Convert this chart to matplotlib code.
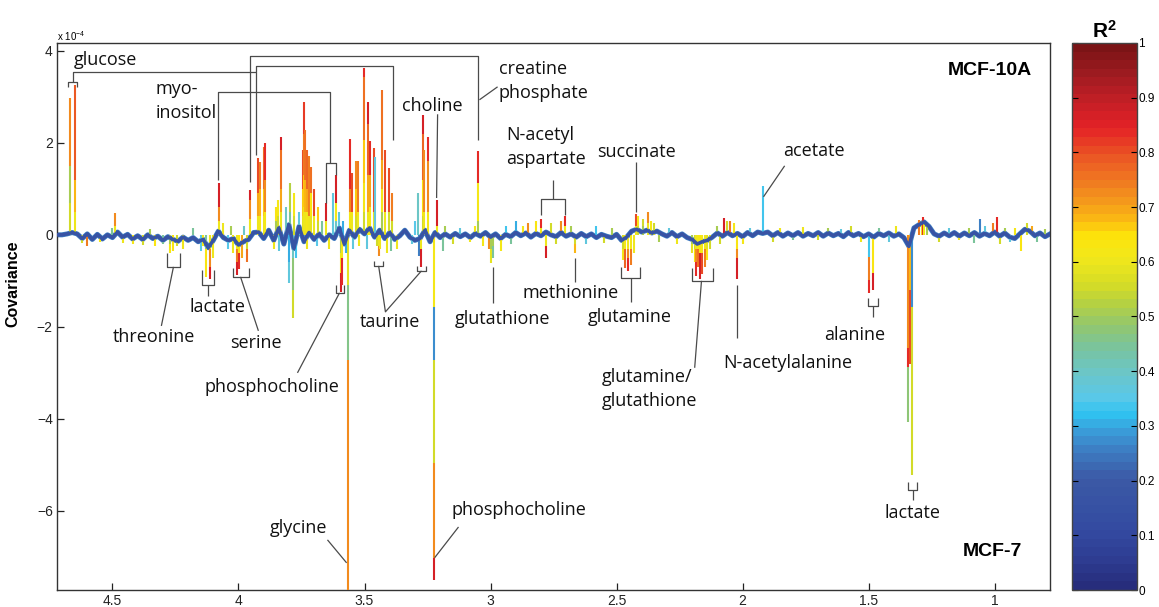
import numpy as np
import matplotlib
matplotlib.use('Agg')
import matplotlib.pyplot as plt
from matplotlib.collections import LineCollection
from matplotlib.colors import LinearSegmentedColormap, Normalize
import matplotlib.cm as cm

plt.rcParams['font.family'] = ['Liberation Sans', 'DejaVu Sans']
plt.rcParams['mathtext.fontset'] = 'custom'
plt.rcParams['mathtext.rm'] = 'Liberation Sans'
plt.rcParams['mathtext.bf'] = 'Liberation Sans:bold'

# ---- data (covariance in units of 1e-4, chemical shift in ppm) ----
# baseline of the covariance trace, 4.72 -> 0.78 ppm, step 0.02
baseline_cov = [
    0.00, 0.00, 0.02, 0.05, 0.02, -0.08, 0.02, -0.10, 0.01, -0.09,
    0.00, -0.06, 0.06, -0.05, 0.01, -0.09, -0.02, -0.10, 0.00, -0.08,
    -0.03, -0.12, -0.04, -0.10, -0.14, -0.05, -0.12, -0.06, -0.15, -0.10,
    -0.28, -0.12, 0.08, -0.06, -0.12, -0.08, -0.22, -0.15, -0.10, 0.05,
    0.06, -0.08, 0.10, -0.12, 0.15, -0.20, 0.22, -0.30, 0.18, -0.15,
    0.05, -0.10, 0.02, -0.12, 0.00, -0.08, 0.15, -0.20, 0.10, -0.05,
    0.12, 0.02, 0.15, -0.05, 0.10, -0.08, 0.05, -0.10, -0.02, 0.10,
    -0.05, -0.12, -0.08, 0.10, -0.15, 0.05, -0.06, 0.02, -0.05, 0.03,
    -0.04, 0.02, -0.06, 0.03, -0.03, 0.05, -0.05, 0.02, -0.08, 0.01,
    -0.04, 0.05, -0.02, 0.04, -0.05, 0.03, -0.02, 0.06, 0.00, -0.04,
    0.05, -0.03, 0.02, -0.05, 0.03, -0.04, 0.02, -0.06, 0.01, -0.03,
    -0.06, 0.01, -0.12, -0.05, 0.08, 0.12, 0.06, 0.10, 0.04, 0.08,
    0.02, -0.03, 0.05, -0.04, 0.02, -0.06, -0.10, -0.20, -0.15, -0.12,
    -0.05, 0.04, -0.03, 0.05, -0.02, 0.03, -0.04, 0.05, -0.02, 0.06,
    0.03, 0.06, -0.02, 0.05, -0.03, 0.04, -0.02, 0.05, -0.03, 0.03,
    -0.02, 0.05, -0.03, 0.04, -0.02, 0.03, -0.04, 0.05, -0.02, 0.03,
    -0.04, 0.02, -0.05, 0.03, -0.02, 0.04, -0.03, 0.02, -0.06, -0.25,
    0.15, 0.22, 0.28, 0.18, 0.02, -0.03, 0.04, -0.02, 0.05, -0.03,
    0.04, -0.02, 0.05, -0.03, 0.03, -0.02, 0.06, -0.03, 0.04, -0.05,
    -0.08, 0.02, 0.12, 0.08, -0.02, 0.04, -0.04, 0.02,
]
baseline_r2 = 0.17

# main peaks: position, break points along the stem, R^2 of each piece
peak_ppm = [
    4.667, 4.650, 4.490, 4.079, 3.956, 3.921, 3.913, 3.898, 3.893, 3.853,
    3.845, 3.833, 3.794, 3.780, 3.745, 3.741, 3.736, 3.728, 3.720, 3.712,
    3.700, 3.686, 3.651, 3.627, 3.615, 3.558, 3.550, 3.535, 3.524, 3.504,
    3.488, 3.478, 3.464, 3.458, 3.430, 3.418, 3.402, 3.392, 3.287, 3.266,
    3.262, 3.250, 3.212, 3.048, 2.798, 2.706, 2.421, 2.413, 2.395, 2.375,
    2.365, 2.350, 1.917,
    4.270, 4.258, 4.245, 4.127, 4.115, 4.100, 4.020, 4.004, 3.996, 3.988,
    3.968, 3.800, 3.782, 3.595, 3.588, 3.567, 3.444, 3.438, 3.282, 3.276,
    3.226, 3.008, 3.000, 2.990, 2.960, 2.780, 2.663, 2.476, 2.468, 2.456,
    2.444, 2.432, 2.200, 2.190, 2.183, 2.175, 2.167, 2.159, 2.150, 2.140,
    2.130, 2.024, 1.500, 1.484, 1.345, 1.337, 1.329,
]
peak_levels = [
    [0.7, 1.5, 2.98], [0.5, 1.2, 3.26], [0.2, 0.47], [0.3, 0.6, 1.12],
    [0.35, 0.76, 0.98], [0.4, 0.9, 1.68], [0.4, 1.0, 1.58], [0.4, 1.0, 1.9],
    [0.5, 1.2, 2.0], [0.3, 0.6], [0.4, 0.75], [0.5, 1.0, 1.85, 2.13],
    [0.5, 1.13], [0.4, 0.9], [0.4, 1.0, 1.85], [0.6, 1.3, 2.2, 2.89],
    [0.5, 1.2, 2.28], [0.5, 1.0, 1.85], [0.4, 1.72], [0.4, 0.9, 1.48],
    [0.4, 1.0], [0.3, 0.6], [0.3, 0.7], [0.9], [0.3, 0.7, 1.3],
    [0.5, 1.0, 2.09], [0.5, 1.35], [0.4, 1.0, 1.6], [0.5, 1.6],
    [0.5, 1.13, 2.07, 3.43, 3.63], [0.5, 1.3, 2.4, 2.89], [0.6, 1.3, 2.04],
    [0.5, 1.89], [1.7], [0.5, 1.0, 1.63, 3.15], [0.5, 1.85], [0.5, 1.45],
    [0.3, 0.9], [0.9], [0.4, 1.2, 2.2, 2.61], [0.5, 1.85], [0.5, 1.6, 2.13],
    [0.2, 0.76], [0.3, 1.13, 1.83], [0.15, 0.35], [0.2, 0.4], [0.2, 0.45],
    [0.2, 0.4], [0.2, 0.35], [0.25, 0.5], [0.3], [0.25], [1.06],
    [-0.2, -0.4], [-0.35], [-0.25], [-0.3, -0.91], [-0.3, -0.7, -0.95],
    [-0.5], [-0.4], [-0.3, -0.6, -0.87], [-0.4, -0.75], [-0.5],
    [-0.3, -0.58], [-0.6, -1.04], [-0.5, -1.2, -1.8], [-0.4, -0.83, -1.24],
    [-0.5, -1.1], [-1.09, -2.72, -8.0], [-0.25, -0.45], [-0.3], [-0.45],
    [-0.3, -0.7], [-1.57, -2.72, -4.96, -7.02, -7.5], [-0.3], [-0.3, -0.61],
    [-0.25, -0.5], [-0.35], [-0.25, -0.5], [-0.2, -0.4], [-0.3, -0.55],
    [-0.3, -0.72], [-0.3, -0.5, -0.78], [-0.3, -0.65], [-0.4], [-0.2, -0.4],
    [-0.3, -0.6], [-0.3, -0.6, -0.9], [-0.3, -0.7], [-0.4, -0.97],
    [-0.4, -0.85], [-0.3, -0.7], [-0.3, -0.55], [-0.3], [-0.3, -0.5, -0.96],
    [-0.48, -0.98, -1.26], [-0.83, -1.2], [-2.46, -2.87, -4.07],
    [-1.2, -2.8], [-1.57, -5.22],
]
peak_r2 = [
    [0.56, 0.5, 0.73], [0.6, 0.68, 0.79], [0.6, 0.72], [0.6, 0.72, 0.86],
    [0.6, 0.72, 0.86], [0.6, 0.7, 0.8], [0.62, 0.68, 0.74], [0.6, 0.66, 0.76],
    [0.62, 0.72, 0.84], [0.5, 0.64], [0.55, 0.62], [0.6, 0.7, 0.76, 0.86],
    [0.45, 0.52], [0.55, 0.62], [0.58, 0.66, 0.8], [0.6, 0.66, 0.74, 0.82],
    [0.6, 0.68, 0.76], [0.62, 0.7, 0.78], [0.6, 0.74], [0.58, 0.64, 0.76],
    [0.6, 0.8], [0.55, 0.66], [0.6, 0.86], [0.36], [0.4, 0.62, 0.86],
    [0.62, 0.72, 0.84], [0.6, 0.8], [0.55, 0.66, 0.72], [0.6, 0.74],
    [0.55, 0.62, 0.66, 0.76, 0.84], [0.6, 0.7, 0.78, 0.86], [0.62, 0.7, 0.84],
    [0.6, 0.8], [0.36], [0.5, 0.62, 0.7, 0.76], [0.6, 0.8], [0.55, 0.8],
    [0.55, 0.74], [0.4], [0.55, 0.64, 0.78, 0.86], [0.6, 0.72], [0.62, 0.72, 0.84],
    [0.6, 0.86], [0.5, 0.62, 0.84], [0.6, 0.84], [0.6, 0.84], [0.6, 0.8],
    [0.55, 0.62], [0.5, 0.56], [0.6, 0.72], [0.62], [0.55], [0.34],
    [0.5, 0.62], [0.64], [0.56], [0.45, 0.64], [0.6, 0.72, 0.86],
    [0.6], [0.6], [0.6, 0.74, 0.86], [0.64, 0.84], [0.7],
    [0.55, 0.76], [0.3, 0.36], [0.4, 0.48, 0.56], [0.5, 0.62, 0.86],
    [0.62, 0.84], [0.58, 0.46, 0.72], [0.6, 0.72], [0.6], [0.25],
    [0.6, 0.86], [0.62, 0.27, 0.55, 0.72, 0.86], [0.72], [0.5, 0.58],
    [0.5, 0.45], [0.62], [0.6, 0.86], [0.55, 0.68], [0.55, 0.62],
    [0.62, 0.78], [0.6, 0.72, 0.84], [0.62, 0.74], [0.6], [0.5, 0.58],
    [0.56, 0.64], [0.6, 0.72, 0.84], [0.62, 0.76], [0.64, 0.86],
    [0.62, 0.8], [0.6, 0.74], [0.58, 0.64], [0.55], [0.64, 0.72, 0.86],
    [0.34, 0.74, 0.84], [0.64, 0.86], [0.72, 0.84, 0.47],
    [0.68, 0.8], [0.28, 0.56],
]

# small spikes around the baseline
small_ppm = [4.62, 4.60, 4.55, 4.50, 4.46, 4.42, 4.38, 4.35, 4.33, 4.30,
             4.22, 4.18, 4.15, 4.14, 4.06, 4.04, 4.03, 3.98, 3.86, 3.84,
             3.81, 3.77, 3.76, 3.73, 3.69, 3.67, 3.64, 3.60, 3.585, 3.575,
             3.545, 3.52, 3.49, 3.45, 3.41, 3.395, 3.37, 3.31, 3.30, 3.19,
             3.18, 3.15, 3.12, 3.08, 3.06, 3.03, 2.94, 2.92, 2.90, 2.87,
             2.85, 2.82, 2.76, 2.74, 2.72, 2.68, 2.62, 2.58, 2.55, 2.52,
             2.33, 2.29, 2.26, 2.10, 2.09, 2.075, 2.06, 2.048, 2.035, 2.00,
             1.97, 1.88, 1.85, 1.80, 1.76, 1.70, 1.66, 1.61, 1.57, 1.53,
             1.46, 1.42, 1.39, 1.30, 1.29, 1.285, 1.28, 1.27, 1.22, 1.18,
             1.14, 1.10, 1.08, 1.056, 1.04, 1.008, 0.992, 0.98, 0.96, 0.94,
             0.92, 0.897, 0.87, 0.85, 0.83, 0.80]
small_cov = [-0.18, -0.25, -0.15, 0.15, -0.18, -0.2, -0.22, 0.12, -0.25, -0.2,
             -0.3, 0.15, -0.35, -0.25, 0.25, -0.3, 0.2, 0.2, -0.3, -0.35,
             0.6, -0.5, 0.5, -0.3, -0.25, 0.3, -0.3, 0.5, 0.3, -0.4,
             -0.3, -0.25, -0.3, -0.25, -0.4, -0.35, -0.3, -0.2, 0.3, -0.35,
             0.2, -0.2, 0.15, -0.15, 0.2, -0.25, 0.2, -0.2, 0.3, 0.2,
             0.25, 0.3, 0.25, -0.2, 0.3, 0.2, -0.2, 0.2, -0.18, 0.15,
             -0.15, 0.15, -0.2, 0.2, -0.2, 0.37, 0.3, 0.3, 0.25, -0.2,
             0.15, -0.15, 0.15, -0.12, 0.18, -0.12, 0.15, 0.12, 0.2, -0.15,
             0.15, -0.15, 0.2, 0.33, 0.3, 0.38, 0.28, 0.25, -0.15, 0.15,
             -0.12, 0.15, -0.18, 0.35, 0.2, 0.25, 0.38, -0.2, 0.15, -0.15,
             0.15, -0.35, 0.25, 0.2, -0.15, 0.12]
small_r2 = [0.56, 0.74, 0.62, 0.45, 0.6, 0.62, 0.56, 0.5, 0.64, 0.45,
            0.6, 0.45, 0.35, 0.62, 0.6, 0.35, 0.5, 0.4, 0.6, 0.36,
            0.4, 0.34, 0.36, 0.6, 0.35, 0.45, 0.6, 0.36, 0.3, 0.3,
            0.36, 0.6, 0.36, 0.55, 0.6, 0.45, 0.6, 0.36, 0.35, 0.45,
            0.5, 0.55, 0.36, 0.6, 0.62, 0.62, 0.34, 0.45, 0.3, 0.62,
            0.72, 0.64, 0.56, 0.55, 0.72, 0.5, 0.36, 0.34, 0.55, 0.5,
            0.5, 0.36, 0.6, 0.5, 0.55, 0.86, 0.55, 0.74, 0.62, 0.62,
            0.36, 0.55, 0.6, 0.45, 0.6, 0.55, 0.5, 0.36, 0.56, 0.6,
            0.45, 0.36, 0.6, 0.74, 0.6, 0.84, 0.62, 0.5, 0.55, 0.36,
            0.6, 0.5, 0.45, 0.25, 0.36, 0.74, 0.84, 0.55, 0.5, 0.36,
            0.62, 0.64, 0.56, 0.7, 0.45, 0.5]

x_ticks = [4.5, 4, 3.5, 3, 2.5, 2, 1.5, 1]
x_ticklabels = ['4.5', '4', '3.5', '3', '2.5', '2', '1.5', '1']
y_ticks = [-6, -4, -2, 0, 2, 4]
y_ticklabels = ['\u22126', '\u22124', '\u22122', '0', '2', '4']
cb_ticks = [0, 0.1, 0.2, 0.3, 0.4, 0.5, 0.6, 0.7, 0.8, 0.9, 1]
cb_ticklabels = ['0', '0.1', '0.2', '0.3', '0.4', '0.5', '0.6', '0.7', '0.8', '0.9', '1']

# annotation labels: text, ppm, covariance, alignment
labels = [
    ('glucose', 4.652, 3.80, 'left'), ('myo-', 4.329, 3.17, 'left'),
    ('inositol', 4.329, 2.65, 'left'), ('creatine', 2.968, 3.61, 'left'),
    ('phosphate', 2.968, 3.09, 'left'), ('choline', 3.23, 2.80, 'center'),
    ('N-acetyl', 2.937, 2.17, 'left'), ('aspartate', 2.937, 1.65, 'left'),
    ('succinate', 2.421, 1.80, 'center'), ('acetate', 1.718, 1.83, 'center'),
    ('threonine', 4.337, -2.22, 'center'), ('lactate', 4.083, -1.565, 'center'),
    ('serine', 3.929, -2.35, 'center'), ('phosphocholine', 3.869, -3.30, 'center'),
    ('taurine', 3.399, -1.89, 'center'), ('glutathione', 2.952, -1.83, 'center'),
    ('methionine', 2.684, -1.26, 'center'), ('glutamine', 2.448, -1.78, 'center'),
    ('glutamine/', 2.56, -3.09, 'left'), ('glutathione', 2.56, -3.61, 'left'),
    ('N-acetylalanine', 1.82, -2.78, 'center'), ('alanine', 1.557, -2.17, 'center'),
    ('lactate', 1.325, -6.04, 'center'), ('glycine', 3.76, -6.37, 'center'),
    ('phosphocholine', 2.887, -5.98, 'center'),
]

# leader lines / brackets (ppm list, covariance list)
leaders = [
    ([4.675, 4.675, 4.639, 4.639], [3.22, 3.33, 3.33, 3.22]),
    ([4.657, 4.657, 3.929], [3.33, 3.543, 3.543]),
    ([3.929, 3.929, 3.385, 3.385], [1.739, 3.68, 3.68, 2.065]),
    ([3.956, 3.956, 3.048, 3.048], [1.152, 3.891, 3.891, 2.065]),
    ([3.044, 2.972], [2.935, 3.217]),
    ([4.083, 4.083, 3.635, 3.635], [1.196, 3.109, 3.109, 1.565]),
    ([3.651, 3.651, 3.615, 3.615], [0.70, 1.565, 1.565, 1.30]),
    ([3.210, 3.214], [2.62, 0.80]),
    ([2.798, 2.798, 2.706, 2.706], [0.435, 0.783, 0.783, 0.435]),
    ([2.754, 2.754], [0.783, 1.196]),
    ([2.421, 2.421], [1.587, 0.5]),
    ([1.917, 1.833], [0.826, 1.5]),
    ([4.282, 4.282, 4.234, 4.234], [-0.391, -0.696, -0.696, -0.391]),
    ([4.258, 4.306], [-0.696, -1.98]),
    ([4.143, 4.143, 4.099, 4.099], [-0.761, -1.087, -1.087, -0.761]),
    ([4.121, 4.121], [-1.087, -1.326]),
    ([4.020, 4.020, 3.960, 3.960], [-0.717, -0.913, -0.913, -0.717]),
    ([3.992, 3.921], [-0.913, -2.087]),
    ([3.615, 3.615, 3.583, 3.583], [-1.087, -1.261, -1.261, -1.087]),
    ([3.599, 3.766], [-1.261, -3.0]),
    ([3.464, 3.464, 3.425, 3.425], [-0.565, -0.674, -0.674, -0.565]),
    ([3.290, 3.290, 3.258, 3.258], [-0.674, -0.783, -0.783, -0.674]),
    ([3.444, 3.417, 3.274], [-0.674, -1.674, -0.783]),
    ([2.992, 2.992], [-0.696, -1.478]),
    ([2.663, 2.663], [-0.5, -1.022]),
    ([2.484, 2.484, 2.405, 2.405], [-0.696, -0.935, -0.935, -0.696]),
    ([2.444, 2.444], [-0.935, -1.457]),
    ([2.202, 2.202, 2.119, 2.119], [-0.717, -1.0, -1.0, -0.717]),
    ([2.163, 2.19], [-1.0, -2.89]),
    ([2.024, 2.024], [-1.087, -2.24]),
    ([1.504, 1.504, 1.464, 1.464], [-1.37, -1.54, -1.54, -1.37]),
    ([1.484, 1.484], [-1.54, -1.78]),
    ([1.345, 1.345, 1.306, 1.306], [-5.37, -5.54, -5.54, -5.37]),
    ([1.325, 1.325], [-5.54, -5.76]),
    ([3.647, 3.571], [-6.63, -7.13]),
    ([3.127, 3.222], [-6.35, -7.02]),
]

# ---- colour map (R^2) ----
cmap = LinearSegmentedColormap.from_list('r2', [
    (0.00, '#272d7c'), (0.05, '#2e3d92'), (0.10, '#3349a0'), (0.15, '#3752a3'),
    (0.20, '#3c5aa6'), (0.25, '#3d7cc2'), (0.29, '#3a9fdb'), (0.32, '#2fc3f1'),
    (0.35, '#5ac8e8'), (0.39, '#6ac6cc'), (0.44, '#78c4a0'), (0.48, '#90c672'),
    (0.52, '#b2d045'), (0.56, '#d6dc25'), (0.61, '#f2e81b'), (0.65, '#fde30b'),
    (0.68, '#fbb813'), (0.71, '#f59c1b'), (0.75, '#f07a21'), (0.80, '#ea5424'),
    (0.85, '#e42126'), (0.90, '#c31f26'), (0.95, '#9e1b20'), (1.00, '#7b1416'),
], N=64)
norm = Normalize(0, 1)

fig = plt.figure(figsize=(11.59, 6.07), dpi=100)
ax = fig.add_axes([0.0492, 0.028, 0.8568, 0.9012])
cax = fig.add_axes([0.9250, 0.028, 0.0561, 0.9012])

base_x = np.linspace(4.72, 0.78, len(baseline_cov))
ax.plot(base_x, baseline_cov, color=cmap(0.25), lw=3.6, zorder=2)

segs, vals = [], []
for p, levs, rs in zip(peak_ppm, peak_levels, peak_r2):
    start = 0.0
    for lev, r in zip(levs, rs):
        segs.append([(p, start), (p, lev)])
        vals.append(r)
        start = lev
for p, c, r in zip(small_ppm, small_cov, small_r2):
    segs.append([(p, 0.0), (p, c)])
    vals.append(r)
lc = LineCollection(segs, cmap=cmap, norm=norm, linewidths=1.5, zorder=3)
lc.set_array(np.array(vals))
ax.add_collection(lc)

ax.plot(base_x, baseline_cov, color=cmap(baseline_r2), lw=2.6, zorder=4)

for xs, ys in leaders:
    ax.plot(xs, ys, color='#4a4a4a', lw=0.9, zorder=5, solid_capstyle='butt')

for txt, x, y, ha in labels:
    ax.text(x, y, txt, ha=ha, va='center', fontsize=13, family=['Open Sans', 'DejaVu Sans'],
            color='#111111', zorder=6)

ax.text(0.982, 0.949, 'MCF-10A', transform=ax.transAxes, ha='right', va='center',
        fontsize=14, fontweight='bold')
ax.text(0.972, 0.071, 'MCF-7', transform=ax.transAxes, ha='right', va='center',
        fontsize=14, fontweight='bold')

ax.set_xlim(4.72, 0.78)
ax.set_ylim(-7.72, 4.17)
ax.set_xticks(x_ticks)
ax.set_xticklabels(x_ticklabels)
ax.set_yticks(y_ticks)
ax.set_yticklabels(y_ticklabels)
ax.tick_params(direction='in', length=5, width=0.9, labelsize=10, pad=3, colors='#222222')
for s in ax.spines.values():
    s.set_color('#333333')
    s.set_linewidth(1.0)
ax.set_ylabel('Covariance', fontsize=11.5, fontweight='bold')
ax.yaxis.set_label_coords(-0.037, 0.56)
fig.text(0.0492, 1 - 36 / 607, r'x 10$^{-4}$', fontsize=7, va='center')

sm = cm.ScalarMappable(norm=norm, cmap=cmap)
cb = fig.colorbar(sm, cax=cax, ticks=cb_ticks)
cb.ax.set_yticklabels(cb_ticklabels)
cax.tick_params(direction='in', length=4, width=0.8, labelsize=8.5, left=True, right=True, pad=1)
cb.outline.set_edgecolor('#444444')
cb.outline.set_linewidth(1.0)
cax.set_title(r'$\mathbf{R^2}$', fontsize=15, pad=4)

fig.savefig('out.png', dpi=100)
